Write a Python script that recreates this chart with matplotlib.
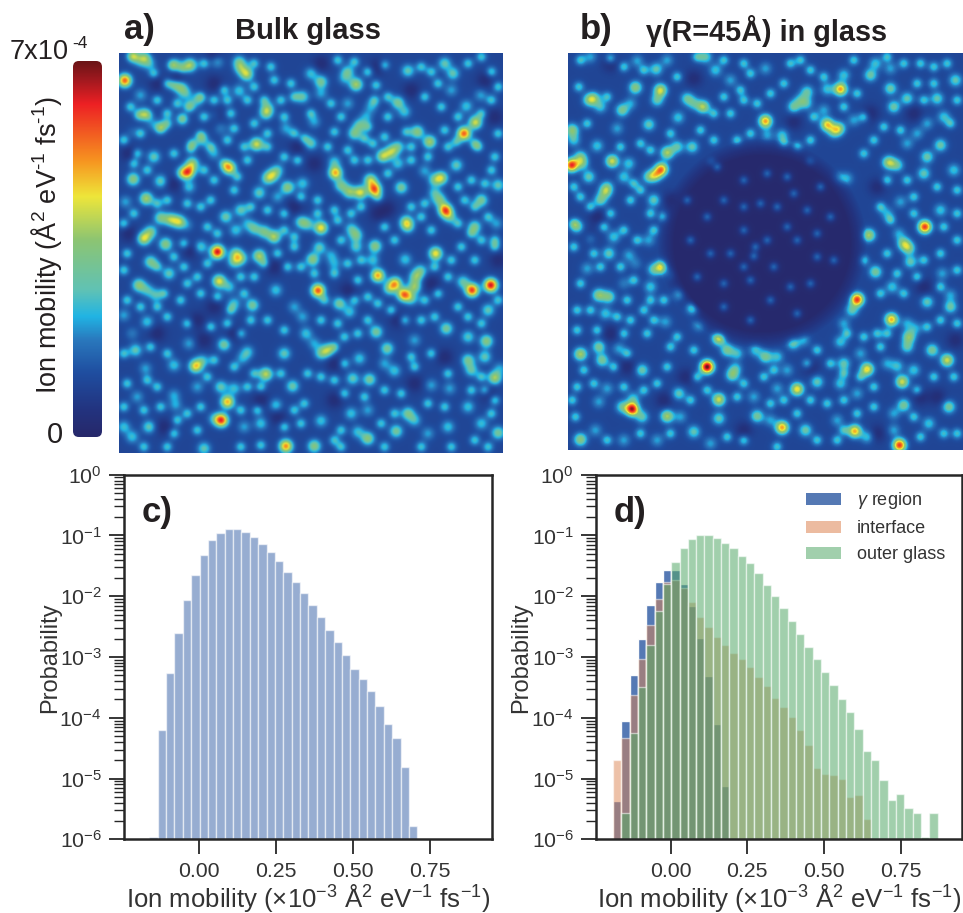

import numpy as np
import matplotlib
matplotlib.use("Agg")
import matplotlib.pyplot as plt
from matplotlib.colors import LinearSegmentedColormap
from matplotlib.patches import FancyBboxPatch, Patch
from matplotlib.ticker import NullFormatter, FixedLocator, LogFormatterMathtext

plt.rcParams['font.family'] = ['Liberation Sans', 'DejaVu Sans']
plt.rcParams['mathtext.fontset'] = 'custom'
plt.rcParams['mathtext.rm'] = 'Liberation Sans'
plt.rcParams['mathtext.it'] = 'Liberation Sans:italic'
plt.rcParams['mathtext.default'] = 'regular'

# ---------- histogram data: log10(probability) per bin ----------
c_first_edge = -0.161
bin_width = 0.02715
bulk_log = [-5.96,-4.20,-3.27,-2.61,-2.07,-1.65,-1.32,-1.08,-0.954,-0.894,-0.894,-0.943,-1.03,-1.146,-1.27,-1.42,
            -1.60,-1.76,-1.95,-2.145,-2.337,-2.556,-2.76,-2.97,-3.19,-3.37,-3.56,-3.81,-4.10,-4.33,-4.805,-5.78]

d_first_edge = -0.188
gamma_log = [-5.37,-4.05,-3.29,-2.70,-2.15,-1.76,-1.57,-1.57,-1.80,-2.16,-2.69,-3.31,-4.10,-5.12]
interface_log = [-4.69,-4.33,-3.63,-3.04,-2.48,-2.05,-1.77,-1.73,-1.87,-2.09,-2.34,-2.51,-2.67,-2.80,-2.94,-3.03,
                 -3.17,-3.33,-3.47,-3.68,-3.82,-3.98,-4.20,-4.45,-4.83,-4.92,-4.94,-5.00,-5.30,-5.27,-5.66]
outer_log = [-5.56,-4.25,-3.49,-2.81,-2.25,-1.80,-1.44,-1.20,-1.06,-1.00,-1.00,-1.04,-1.12,-1.21,-1.33,-1.46,
             -1.62,-1.81,-1.99,-2.19,-2.40,-2.62,-2.84,-3.03,-3.25,-3.46,-3.69,-3.91,-4.19,-4.55,-4.70,-5.02,
             -5.35,-5.26,-5.48,-5.56,-5.96,-5.56]
outer_offset = 1
legend_labels = [r'$\mathit{\gamma}$ region', 'interface', 'outer glass']
xticks = [0.0, 0.25, 0.5, 0.75]
xtick_labels = ['0.00', '0.25', '0.50', '0.75']
xlabel = r'Ion mobility ($\times10^{-3}$ Å$^{2}$ eV$^{-1}$ fs$^{-1}$)'

# ---------- heat-map features: (x, y, level) ----------
spots_a = [(373,241,.8),(568,195,.55),(738,222,.55),(1065,253,.55),(960,245,.45),(1330,190,.4),(1355,220,.4),(1220,212,.4),
(1388,400,.8),(1422,367,.6),(1248,395,.5),(1285,425,.55),(1190,307,.45),(767,432,.6),(795,340,.42),(800,325,.4),
(685,503,.7),(563,515,.7),(575,490,.5),(545,520,.45),(1003,518,.7),(1000,485,.35),
(1145,468,.55),(1170,455,.5),(1190,440,.4),(1060,400,.45),(1075,375,.4),(1095,350,.3),
(1120,567,.78),(1108,540,.55),(1078,577,.6),(1045,575,.5),(1020,555,.45),(1320,533,.55),(1300,540,.4),
(1332,630,.8),(1315,600,.45),(1345,650,.4),(1300,578,.35),(1215,665,.5),(1220,680,.4),(960,683,.65),(900,665,.4),(920,672,.38),
(1065,705,.45),(1050,685,.35),(1065,740,.38),(650,755,.92),(600,740,.38),(705,760,.45),(720,775,.45),(700,785,.4),(775,767,.55),
(1303,760,.65),(1122,738,.5),(955,742,.4),(935,778,.5),(990,765,.3),(1000,790,.3),(1130,826,.72),(1115,780,.35),(1212,778,.35),
(1468,855,.92),(1412,870,.85),(1385,845,.4),(1182,850,.65),(1208,883,.75),(1240,860,.5),(1243,830,.45),(1258,812,.4),(1165,865,.45),(1230,895,.4),
(951,871,.82),(655,843,.62),(685,860,.35),(505,820,.4),(450,785,.45),(415,855,.5),(440,870,.35),(465,885,.35),
(430,715,.6),(450,695,.45),(495,732,.5),(535,665,.55),(510,658,.5),(480,653,.45),(560,675,.25),
(437,595,.55),(398,537,.5),(480,543,.4),(375,605,.3),(565,560,.35),(675,650,.42),(720,630,.4),(775,578,.4),(830,590,.3),(860,562,.5),(905,550,.35),(815,525,.45),(800,535,.42),(830,510,.35),
(820,710,.55),(790,695,.45),(760,685,.4),(740,670,.3),(705,690,.35),(755,915,.45),(700,910,.35),(1015,910,.45),(1045,935,.35),(880,920,.3),(825,870,.35),(905,950,.3),
(1335,985,.45),(1125,995,.45),(1460,930,.4),(1400,1010,.38),(1455,1023,.5),(1240,1020,.3),(915,1000,.35),(980,1050,.5),(960,1060,.4),(940,1030,.3),(850,1060,.4),(1158,1045,.45),(1075,1075,.35),
(670,1033,.45),(740,1055,.35),(725,1075,.3),(405,1050,.4),(585,1098,.65),(605,1082,.35),(520,1095,.35),(795,1122,.58),
(875,1158,.42),(1055,1135,.4),(1105,1138,.45),(1180,1112,.35),(1150,1090,.3),(1400,1080,.45),(1410,1110,.4),(1450,1070,.4),(1480,1133,.55),(1495,1105,.3),
(680,1205,.7),(660,1160,.4),(700,1165,.35),(662,1260,.85),(640,1255,.3),(1220,1240,.45),(1240,1260,.35),(1100,1315,.5),(1070,1295,.35),(1185,1293,.45),(1490,1298,.45),(1440,1270,.35),
(855,1338,.75),(940,1338,.5),(610,1345,.4),(370,1280,.35),(395,1310,.35),(445,1280,.4),(960,1262,.35),
(540,262,.45),(555,280,.35),(430,340,.35),(420,285,.3),(590,300,.3),(570,315,.25),(715,272,.35),(640,345,.25),(660,385,.25),
(480,380,.3),(455,370,.25),(605,420,.35),(640,460,.3),(460,470,.4),(395,395,.2),(545,360,.25),
(905,290,.4),(960,280,.3),(930,220,.35),(1040,215,.4),(1030,235,.3),(1350,270,.3),(1438,285,.3),(1395,318,.35),(1040,310,.3),(1110,320,.3),(1210,335,.35),
(855,385,.3),(940,365,.3),(930,430,.4),(1365,495,.4),(1270,512,.3),(1190,490,.35),(1200,562,.45),(1440,600,.45),(1490,555,.4),(1420,680,.45),(1485,670,.3),
(370,945,.3),(440,965,.35),(395,1000,.25),(565,1030,.3),(435,1105,.3),(520,1185,.3),(590,1160,.3),(525,1215,.3),(410,1190,.3),(730,1280,.3),(780,1270,.35),(825,1215,.35),(1290,1155,.3),(1345,1165,.3),(1400,1220,.35),(1340,1280,.35),(1280,1300,.3),(1100,1230,.3),(1050,1240,.35),
(420,180,.4),(445,190,.35),(400,165,.35),(525,195,.35),(650,185,.3),(715,185,.4),(720,205,.4)]

faint_a = [(395,170),(435,170),(515,195),(545,205),(610,190),(460,220),(500,250),(520,255),(470,300),(530,310),(500,340),(440,345),(415,345),(390,320),(565,320),(600,290),(610,350),(680,300),(670,270),(690,340),(700,385),(640,300),(480,385),(500,370),(420,400),(545,355),(680,420),(630,440),(600,405),(575,430),
(760,190),(810,200),(820,240),(760,260),(740,300),(790,300),(870,250),(880,290),(840,300),(930,340),(990,310),(1020,350),(1000,395),(850,350),(800,400),(760,370),(880,400),(910,415),(1010,180),(1060,185),(1100,215),(1125,255),(1150,195),(1120,300),(1160,290),(1160,350),(1100,380),
(1260,200),(1290,215),(1310,250),(1400,190),(1440,170),(1470,215),(1490,260),(1270,290),(1320,320),(1370,350),(1440,340),(1470,300),(1490,400),(1330,390),(1365,425),(1430,440),(1215,395),(1150,410),(1115,430),(1090,415),(1230,440),
(370,420),(410,460),(400,490),(440,510),(520,460),(570,445),(610,510),(640,540),(710,530),(670,490),(740,480),(730,440),(800,440),(890,480),(850,470),(700,570),(630,600),(600,620),(560,610),(500,600),(470,610),(400,640),(370,670),(620,680),(650,700),(750,620),(800,630),(850,640),(900,590),(950,600),(1000,630),(950,640),(1010,660),(880,710),(850,690),
(1040,450),(980,440),(1060,480),(1100,480),(1160,520),(1230,480),(1280,470),(1340,440),(1420,430),(1480,470),(1470,510),(1410,540),(1370,560),(1450,550),(1420,620),(1390,600),(1270,610),(1230,620),(1130,590),(1080,620),(1050,640),(1150,680),(1180,720),(1260,650),(1290,690),(1370,670),(1410,700),(1480,720),(1460,650),
(380,760),(370,810),(380,900),(420,920),(470,800),(470,920),(490,880),(520,770),(550,730),(550,800),(560,850),(590,830),(620,790),(600,880),(540,900),(500,950),(560,970),(650,890),(690,930),(730,880),(760,830),(720,830),(790,790),(830,760),(860,800),(880,740),(900,800),(940,820),(1000,820),(970,900),(960,960),(1010,970),(850,990),(800,960),(750,960),(680,970),(720,1000),(630,980),
(1020,720),(1040,790),(1070,840),(1080,780),(1100,890),(1060,900),(1130,910),(1170,930),(1210,960),(1270,900),(1300,950),(1310,880),(1340,830),(1300,800),(1350,780),(1420,780),(1380,740),(1440,720),(1480,740),(1490,900),(1400,950),(1440,970),(1370,920),(1260,960),(1100,960),(1070,1000),(1030,1010),
(370,1060),(450,1040),(500,1060),(440,1140),(470,1160),(380,1150),(370,1220),(430,1230),(480,1220),(560,1240),(590,1290),(520,1300),(530,1260),(620,1130),(640,1080),(700,1100),(760,1120),(840,1120),(780,1160),(740,1160),(720,1230),(770,1230),(850,1280),(900,1270),(880,1230),(910,1210),(600,1220),
(920,1120),(960,1130),(1000,1040),(1030,1090),(1000,1140),(1030,1180),(1090,1190),(1150,1170),(1200,1180),(1240,1100),(1290,1060),(1230,1070),(1340,1120),(1440,1130),(1450,1170),(1410,1170),(1480,1200),(1470,1240),(1330,1220),(1280,1210),(1180,1240),(1140,1270),(1020,1290),(1020,1340),(1150,1340),(1260,1340),(1350,1340),(1420,1320),(1460,1340),(1000,1320),(780,1335),(720,1340),(500,1340),(430,1340)]

holes_a = [(645,345),(530,235),(470,250),(890,440),(940,490),(640,250),(1130,640),(1160,625),(470,1000),(610,1020),(640,920),(520,550),(880,620),(830,1250),(490,1280),(1460,1180),(1190,960),(1240,1150),(1330,1070),(1000,1090),(1290,850),(1490,780),(1480,350),(1450,240),(1230,270),(1130,200),(960,190),(640,160),(385,460),(385,700),(590,960),(820,800),(1040,870),(700,1000),(780,1200),(1000,1200),(570,750)]

spots_b = [(183,495,.85),(453,507,.72),(435,525,.5),(415,530,.4),(305,483,.6),(210,470,.42),(215,490,.4),(235,530,.4),(285,575,.45),(270,600,.42),(290,560,.35),
(250,295,.45),(270,320,.35),(235,300,.4),(185,390,.5),(190,420,.35),(260,437,.35),(320,385,.3),(335,330,.45),(360,310,.3),(375,262,.5),(450,270,.6),(440,300,.4),(437,207,.4),(415,373,.4),(530,295,.4),(550,310,.35),(578,320,.55),(503,352,.35),(470,458,.55),(500,440,.4),(545,440,.4),(430,600,.4),(355,490,.35),(340,530,.35),
(765,363,.72),(585,170,.4),(615,210,.35),(660,240,.3),(765,205,.3),(380,182,.3),(470,180,.3),(240,170,.3),(990,267,.72),(950,267,.35),(890,275,.4),(850,320,.42),(870,300,.35),(888,310,.35),(950,373,.65),(985,385,.5),(970,395,.4),(1030,360,.3),(940,330,.3),(770,405,.3),(815,405,.35),(1000,225,.35),(1080,225,.42),(1095,190,.35),(1140,205,.3),(1140,265,.42),(1150,320,.42),(1190,295,.4),(1280,295,.4),(1300,350,.35),(1335,240,.4),(1250,370,.3),
(1135,487,.55),(1160,495,.4),(1250,470,.42),(1290,435,.42),(1240,520,.4),(1330,510,.35),(1220,400,.3),(1190,430,.3),
(1243,680,.85),(1290,630,.35),(1180,730,.5),(1195,745,.45),(1165,700,.3),(1130,640,.3),(1075,705,.55),(1200,785,.4),(1095,815,.45),(1145,860,.35),(1250,905,.4),(1320,920,.42),(1320,885,.3),(1295,820,.3),(1170,605,.3),(1010,535,.3),(985,535,.3),(1040,898,.85),(1025,930,.4),(1143,958,.7),(1195,1010,.5),(1190,1040,.4),(1215,985,.3),(1190,970,.3),(1265,1050,.45),(1310,1080,.6),(1070,1107,.65),(1000,1090,.4),(1050,1060,.3),(990,1025,.35),(1130,1090,.3),(1175,1145,.6),(1210,1110,.35),(1160,1098,.35),(1000,970,.3),
(860,1167,.65),(920,1145,.4),(990,1150,.35),(1040,1180,.3),(830,1110,.3),(800,1165,.3),(880,1020,.3),(848,1030,.4),(765,1070,.45),(735,1050,.35),(800,1070,.35),
(550,920,.88),(510,880,.5),(455,800,.62),(430,808,.4),(415,720,.3),(420,860,.35),(485,820,.3),(295,760,.4),(355,765,.3),(375,790,.25),(310,710,.35),(200,680,.4),(240,715,.3),(230,805,.3),
(265,885,.5),(295,890,.45),(285,940,.35),(340,850,.25),(465,965,.3),(565,975,.3),(625,1015,.6),(650,1050,.45),(680,1060,.35),(590,1100,1.0),(665,1125,.45),(675,1105,.35),(210,1062,.55),(265,1040,.45),(275,1080,.45),(325,1045,.3),(395,1110,.42),
(365,1227,.92),(335,1220,.4),(395,1250,.4),(368,1195,.35),(470,1248,.55),(505,1180,.4),(625,1198,.6),(625,1255,.4),(290,1165,.3),(265,1205,.3),(740,1248,.45),(780,1260,.3),(815,1282,.72),(885,1290,.42),(1033,1293,.7),(1070,1310,.35),(1167,1335,.85),(1150,1290,.3),(1180,1215,.45),(1255,1270,.35),(1315,1220,.45),(1150,1240,.3),(210,1318,.5),(255,1290,.3),(550,1295,.4),(600,1330,.3),(510,1250,.3),(980,1260,.3),(730,1190,.3),(440,1320,.3),(340,1320,.3)]

faint_b = [(210,180),(300,175),(340,200),(400,210),(500,230),(560,170),(640,180),(700,190),(720,220),(690,270),(640,290),(610,340),(660,340),(700,300),(740,310),(780,280),(820,250),(840,190),(900,210),(940,230),(870,180),(1030,180),(1040,280),(1000,320),(910,350),(1060,350),(1130,170),(1180,190),(1230,190),(1270,200),(1310,190),(1220,250),(1270,250),(1240,300),(1340,300),(1320,370),(1120,380),(1170,390),(1090,420),(1060,460),(900,420),(860,440),(820,430),(720,400),(680,420),(610,420),(570,390),(480,400),(390,430),(420,450),(330,440),(230,370),(290,290),(205,260),
(190,560),(210,590),(370,550),(390,570),(420,640),(360,600),(300,640),(240,620),(190,670),(280,680),(340,690),(430,690),(460,650),(190,740),(250,760),(330,800),(210,850),(270,800),(380,720),(370,840),(420,900),(350,900),(200,930),(240,930),(320,950),(360,960),(400,930),(430,960),(460,900),(500,1010),(410,1000),(340,1000),(260,990),(200,990),(310,1100),(350,1060),(220,1110),(200,1160),(250,1150),(340,1160),(400,1170),(440,1150),(470,1100),(480,1040),(550,1050),(560,1130),(540,1200),(590,1170),(680,1190),(700,1150),(760,1130),(790,1110),(820,1200),(780,1210),(900,1200),(950,1210),(1000,1200),(860,1240),(920,1320),(980,1320),(800,1340),(700,1320),(650,1310),(480,1300),(390,1300),(290,1320),(195,1250),(185,1200),
(1130,540),(1190,540),(1210,590),(1280,560),(1340,570),(1340,640),(1110,620),(1140,660),(1210,640),(1300,680),(1340,720),(1290,760),(1240,780),(1130,760),(1060,780),(1160,820),(1110,880),(1180,880),(1220,830),(1340,810),(1290,860),(1250,980),(1290,960),(1340,970),(1330,1130),(1270,1130),(1220,1170),(1090,1160),(1090,1220),(1040,1240),(1000,1290),(1230,1310),(1300,1300),(1340,1300),(1210,1250),(1110,1040),(1060,1010),(1100,1000),(1010,1000),(960,1090),(920,1050),(890,1090),(1000,1120),(1050,1130),(1130,1000)]

inner_b = [(750,610),(600,480),(700,690),(735,740),(730,768),(790,800),(640,850),(890,630),(830,530),(590,650),(920,770),(620,500),(700,540),(770,520),(850,580),(930,560),(960,650),(640,600),(700,620),(830,680),(660,760),(600,760),(860,720),(920,700),(970,780),(900,850),(840,860),(720,840),(780,900),(860,940),(720,960),(640,920),(560,830),(540,720),(530,600),(900,480),(800,620),(770,720),(700,800)]

holes_b = [(550,235),(300,190),(240,710),(350,1100),(525,1130),(1335,1020),(1080,340),(850,365),(260,650),(1230,1190),(300,1000),(480,600),(1100,560),(1240,860),(1280,1190),(900,1100),(1100,1300),(700,1290),(460,1200),(1210,340)]
void_center = (755, 730)
void_radius = 290
faint_level = 0.36
inner_level = 0.21

# ---------- colour scale ----------
cmap_stops = [(0.0,'#27286a'),(0.07,'#23337f'),(0.17,'#1f4ea0'),(0.257,'#2a78bd'),(0.32,'#21b4e4'),(0.39,'#60c2b5'),
              (0.525,'#8dc572'),(0.64,'#eee63a'),(0.736,'#f79420'),(0.887,'#ed2024'),(0.95,'#a3191f'),(1.0,'#6b1416')]
cmap = LinearSegmentedColormap.from_list('mobility', cmap_stops)


def field(x0, x1, y0, y1, spots, faint, holes, sigma=14.0, base=0.14):
    xs = np.arange(x0, x1, 3.0)
    ys = np.arange(y0, y1, 3.0)
    X, Y = np.meshgrid(xs, ys)
    Z = np.full_like(X, base, dtype=float)
    for sx, sy, lvl in spots:
        Z += (lvl - base) * np.exp(-((X - sx) ** 2 + (Y - sy) ** 2) / (2 * sigma ** 2))
    for sx, sy in faint:
        Z += (faint_level - base) * np.exp(-((X - sx) ** 2 + (Y - sy) ** 2) / (2 * 11.5 ** 2))
    for sx, sy in holes:
        Z -= 0.09 * np.exp(-((X - sx) ** 2 + (Y - sy) ** 2) / (2 * 18.0 ** 2))
    return Z


W, H = 963, 913
fig = plt.figure(figsize=(W / 100, H / 100), dpi=100, facecolor='white')


def ax_px(l, t, r, b, **kw):
    return fig.add_axes([l / W, 1 - b / H, (r - l) / W, (b - t) / H], **kw)


# panel a
ax_a = ax_px(119, 53.5, 502, 453)
Za = field(357, 1505, 160, 1358, spots_a, faint_a, holes_a)
ax_a.imshow(Za, cmap=cmap, vmin=0, vmax=1, extent=(357, 1505, 1358, 160), aspect='auto', interpolation='bicubic')
ax_a.axis('off')

# panel b
ax_b = ax_px(568, 53.5, 963, 450)
Zb = field(174, 1359, 160, 1350, spots_b, faint_b, holes_b)
Xb, Yb = np.meshgrid(np.arange(174, 1359, 3.0), np.arange(160, 1350, 3.0))
rb = np.hypot(Xb - void_center[0], Yb - void_center[1])
inside = np.clip((void_radius + 25 - rb) / 50, 0, 1)
Zb = Zb * (1 - inside) + inside * 0.015
for sx, sy in inner_b:
    Zb += (inner_level - 0.015) * inside * np.exp(-((Xb - sx) ** 2 + (Yb - sy) ** 2) / (2 * 10.0 ** 2))
ax_b.imshow(Zb, cmap=cmap, vmin=0, vmax=1, extent=(174, 1359, 1350, 160), aspect='auto', interpolation='bicubic')
ax_b.axis('off')

# colour bar
ax_cb = ax_px(73, 61, 102, 437)
grad = np.linspace(1, 0, 256).reshape(-1, 1)
im = ax_cb.imshow(grad, cmap=cmap, vmin=0, vmax=1, extent=(0, 1, 0, 1), aspect='auto')
im.set_clip_path(FancyBboxPatch((0.0, 0.0), 1, 1, boxstyle='round,pad=0,rounding_size=0.2',
                                transform=ax_cb.transAxes, mutation_aspect=0.08))
ax_cb.axis('off')

DARK = '#231f20'
HY = '\u2010'
fig.text(10 / W, 1 - 52 / H, '7x10', ha='left', va='center', fontsize=19.5, color=DARK)
fig.text(72 / W, 1 - 44 / H, HY + '4', ha='left', va='center', fontsize=12.5, color=DARK)
fig.text(55 / W, 1 - 435 / H, '0', ha='center', va='center', fontsize=21, color=DARK)
fig.text(46 / W, 1 - 245 / H, 'Ion mobility (Å$^{2}$ eV$^{' + HY + '1}$ fs$^{' + HY + '1}$)', rotation=90, ha='center', va='center',
         fontsize=19.5, color=DARK)
fig.text(139 / W, 1 - 30 / H, 'a)', ha='center', va='center', fontsize=25, fontweight='bold', color=DARK)
fig.text(308 / W, 1 - 31 / H, 'Bulk glass', ha='center', va='center', fontsize=21, fontweight='bold', color=DARK)
fig.text(596 / W, 1 - 30 / H, 'b)', ha='center', va='center', fontsize=25, fontweight='bold', color=DARK)
fig.text(766 / W, 1 - 31 / H, 'γ(R=45Å) in glass', ha='center', va='center', fontsize=20.8, fontweight='bold', color=DARK)


def style_hist(ax, ylabel_x):
    ax.set_yscale('log')
    ax.set_ylim(1e-6, 1)
    ax.set_xlim(-0.243, 0.95)
    ax.set_xticks(xticks)
    ax.set_xticklabels(xtick_labels)
    ax.yaxis.set_major_locator(FixedLocator([10.0 ** e for e in range(-6, 1)]))
    ax.yaxis.set_major_formatter(LogFormatterMathtext())
    ax.yaxis.set_minor_locator(FixedLocator([m * 10.0 ** e for e in range(-6, 0) for m in range(2, 10)]))
    ax.yaxis.set_minor_formatter(NullFormatter())
    ax.tick_params(axis='both', which='major', length=11, width=1.3, color='#262626', labelcolor='#333333', labelsize=15.3, pad=5)
    ax.tick_params(axis='y', which='minor', length=7, width=1.0, color='#262626')
    for s in ax.spines.values():
        s.set_linewidth(1.8)
        s.set_color('#262626')
    ax.set_xlabel(xlabel, fontsize=18.5, color='#333333')
    ax.xaxis.set_label_coords(0.5, -0.118, transform=ax.transAxes)
    ax.set_ylabel('Probability', fontsize=17, color='#333333')
    ax.yaxis.set_label_coords(ylabel_x, 0.497, transform=ax.transAxes)


def bars(ax, first, logs, **kw):
    vals = 10.0 ** np.array(logs)
    edges = first + bin_width * np.arange(len(vals))
    ax.bar(edges, vals - 1e-7, width=bin_width, align='edge', bottom=1e-7, **kw)


# panel c
ax_c = ax_px(124, 474.7, 492, 839.3)
style_hist(ax_c, -0.172)
bars(ax_c, c_first_edge, bulk_log, color='#4c72b0', alpha=0.58, edgecolor='white', linewidth=1.0)
ax_c.set_ylim(1e-6, 1)
ax_c.text(0.048, 0.895, 'c)', transform=ax_c.transAxes, fontsize=25, fontweight='bold', color=DARK, va='center')

# panel d
ax_d = ax_px(596, 474.7, 962, 839.3)
style_hist(ax_d, -0.175)
bars(ax_d, d_first_edge, gamma_log, color='#4c72b0', alpha=0.95, edgecolor='white', linewidth=1.0)
bars(ax_d, d_first_edge, interface_log, color='#dd8452', alpha=0.5, edgecolor='white', linewidth=1.0)
bars(ax_d, d_first_edge + outer_offset * bin_width, outer_log, color='#55a868', alpha=0.55, edgecolor='white', linewidth=1.0)
ax_d.set_ylim(1e-6, 1)
ax_d.text(0.048, 0.895, 'd)', transform=ax_d.transAxes, fontsize=25, fontweight='bold', color=DARK, va='center')
handles = [Patch(facecolor='#4c72b0', alpha=0.95, linewidth=0), Patch(facecolor='#dd8452', alpha=0.55, linewidth=0),
           Patch(facecolor='#55a868', alpha=0.55, linewidth=0)]
ax_d.legend(handles, legend_labels, loc='upper left', frameon=False, fontsize=13, labelcolor='#333333',
            handlelength=1.94, handleheight=0.62, handletextpad=0.9, labelspacing=0.5,
            bbox_to_anchor=(0.573, 0.957), borderaxespad=0, borderpad=0)

fig.savefig('out.png', dpi=100, facecolor='white')
